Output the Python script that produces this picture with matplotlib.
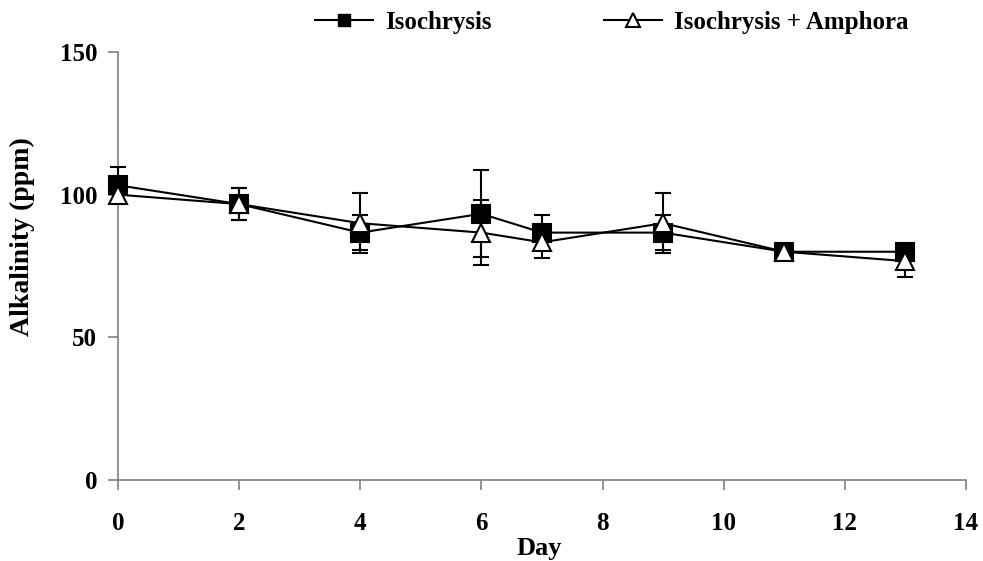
import matplotlib
matplotlib.use("Agg")
import matplotlib.pyplot as plt
from matplotlib.lines import Line2D

# Alkalinity over the culture period
days = [0, 2, 4, 6, 7, 9, 11, 13]
iso = [103.3, 96.7, 86.7, 93.3, 86.7, 86.7, 80.0, 80.0]
iso_err = [6.3, 5.5, 6.0, 15.3, 6.0, 6.2, 0.5, 0.5]
iso_amph = [100.0, 96.7, 90.0, 86.7, 83.3, 90.0, 80.0, 76.7]
iso_amph_err = [3.0, 5.5, 10.5, 11.5, 5.4, 10.5, 0.5, 5.7]

series_names = ["Isochrysis", "Isochrysis + Amphora"]
x_ticks = [0, 2, 4, 6, 8, 10, 12, 14]
y_ticks = [0, 50, 100, 150]

plt.rcParams["font.family"] = ["Liberation Serif", "DejaVu Serif"]
plt.rcParams["font.weight"] = "bold"

fig = plt.figure(figsize=(9.83, 5.61), dpi=100)
ax = fig.add_axes([0.12, 0.1444, 0.8627, 0.7629])

common = dict(color="black", lw=1.5, elinewidth=1.5, capsize=5.5, capthick=1.5,
              markersize=13, markeredgewidth=1.5, markeredgecolor="black")
for y, err, mk, fc, z in [(iso, iso_err, "s", "black", 3),
                          (iso_amph, iso_amph_err, "^", "white", 4)]:
    cont = ax.errorbar(days, y, yerr=err, marker=mk, markerfacecolor=fc,
                       zorder=z, **common)
    data_line, caps, bars = cont.lines
    artists = [data_line] + list(caps) + list(bars)
    for artist in artists:
        artist.set_clip_on(False)

ax.set_xlim(0, 14)
ax.set_ylim(0, 150)
ax.set_xticks(x_ticks)
ax.set_yticks(y_ticks)
ax.tick_params(axis="both", direction="out", length=7, width=1.2, color="#808080",
               labelsize=18)
ax.tick_params(axis="y", pad=8)
ax.tick_params(axis="x", pad=16)
for lab in ax.get_xticklabels() + ax.get_yticklabels():
    lab.set_fontweight("bold")

for side in ("top", "right"):
    ax.spines[side].set_visible(False)
for side in ("left", "bottom"):
    ax.spines[side].set_color("#808080")
    ax.spines[side].set_linewidth(1.2)

fig.text(0.549, 1 - 549 / 561, "Day", ha="center", va="center",
         fontsize=19, fontweight="bold")
fig.text(0.0224, 1 - 237 / 561, "Alkalinity (ppm)", ha="center", va="center",
         rotation=90, fontsize=20, fontweight="bold")

handles = [
    Line2D([], [], color="black", lw=1.5, marker="s", markersize=9,
           markerfacecolor="black", markeredgecolor="black"),
    Line2D([], [], color="black", lw=1.5, marker="^", markersize=10,
           markerfacecolor="white", markeredgecolor="black", markeredgewidth=1.5),
]
fig.legend(handles, series_names, loc="center left",
           bbox_to_anchor=(315 / 983, 1 - 22 / 561), ncol=2, frameon=False,
           prop={"weight": "bold", "size": 18}, borderpad=0, borderaxespad=0,
           handlelength=2.3, columnspacing=4.5, handletextpad=0.5)

fig.savefig("out.png", dpi=100)
